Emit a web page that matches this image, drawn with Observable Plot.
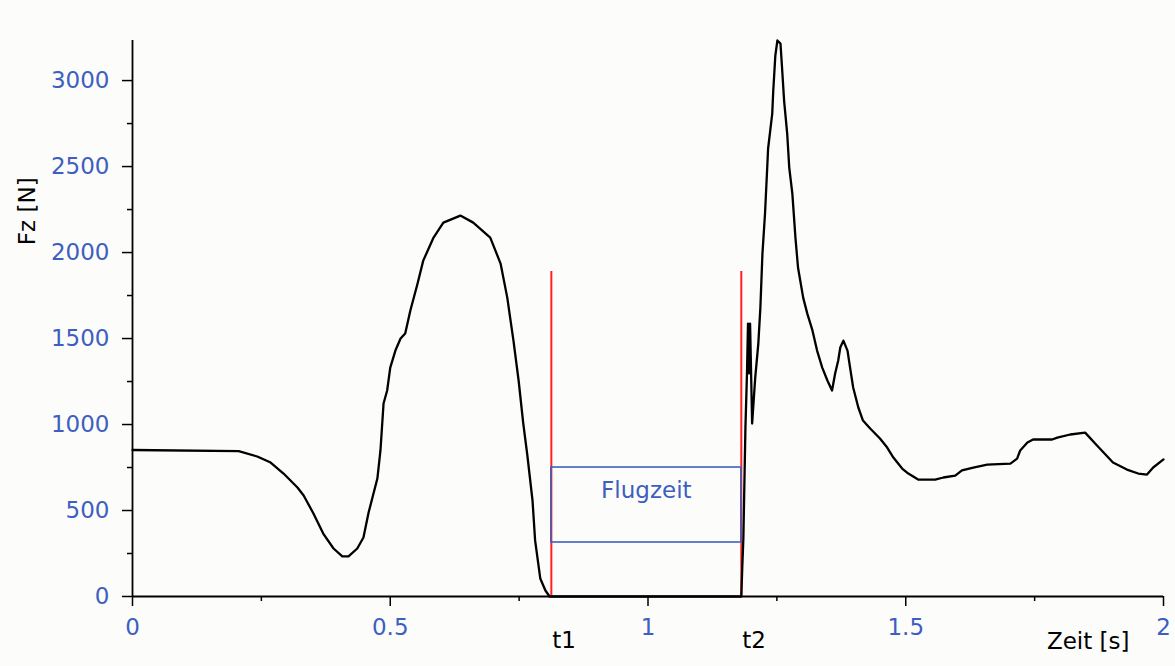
<!DOCTYPE html>
<html>
<head>
<meta charset="utf-8">
<script src="https://cdn.jsdelivr.net/npm/d3@7"></script>
<script src="https://cdn.jsdelivr.net/npm/@observablehq/plot@0.6"></script>
<style>
  html, body { margin: 0; padding: 0; background: #fcfcfa; }
</style>
</head>
<body>
<div id="chart"></div>
<script>
// Time (s) and vertical force Fz (N)
const time = [0, 0.206, 0.242, 0.268, 0.293, 0.320, 0.332, 0.351, 0.370, 0.390, 0.407, 0.419, 0.436, 0.448, 0.458, 0.475, 0.481, 0.487, 0.494, 0.500, 0.510, 0.520, 0.529, 0.539, 0.553, 0.564, 0.584, 0.603, 0.636, 0.661, 0.694, 0.714, 0.727, 0.739, 0.749, 0.758, 0.766, 0.776, 0.781, 0.791, 0.801, 0.809,
  1.181, 1.183, 1.185, 1.189, 1.192, 1.194, 1.196, 1.198, 1.202, 1.208, 1.214, 1.218, 1.222, 1.227, 1.231, 1.233, 1.241, 1.243, 1.247, 1.251, 1.257, 1.260, 1.264, 1.270, 1.274, 1.280, 1.286, 1.291, 1.301, 1.309, 1.319, 1.328, 1.338, 1.348, 1.357, 1.363, 1.369, 1.373, 1.379, 1.387, 1.392, 1.398, 1.408, 1.417, 1.431, 1.450, 1.464, 1.476, 1.493, 1.505, 1.524, 1.557, 1.573, 1.596, 1.609, 1.631, 1.658, 1.703, 1.716, 1.722, 1.736, 1.747, 1.784, 1.794, 1.819, 1.848, 1.871, 1.902, 1.929, 1.951, 1.968, 1.980, 2.000];
const force = [852, 845, 814, 779, 715, 634, 587, 483, 366, 279, 233, 233, 279, 343, 488, 686, 849, 1122, 1198, 1331, 1430, 1500, 1529, 1663, 1820, 1953, 2087, 2174, 2215, 2174, 2087, 1936, 1738, 1488, 1256, 1006, 820, 558, 326, 105, 35, 0,
  0, 180, 337, 983, 1297, 1587, 1297, 1587, 1006, 1273, 1471, 1680, 1994, 2227, 2477, 2605, 2808, 2942, 3145, 3233, 3215, 3076, 2884, 2692, 2494, 2343, 2087, 1913, 1738, 1645, 1547, 1430, 1331, 1256, 1198, 1297, 1372, 1448, 1488, 1430, 1331, 1215, 1099, 1023, 977, 919, 866, 808, 744, 715, 680, 680, 692, 703, 733, 750, 767, 773, 802, 849, 895, 913, 913, 924, 942, 953, 878, 779, 738, 715, 709, 750, 797];

const xMajor = [0, 0.5, 1, 1.5, 2];
const xMinor = [0.25, 0.75, 1.25, 1.75];
const yMajor = [0, 500, 1000, 1500, 2000, 2500, 3000];
const yMinor = [250, 750, 1250, 1750, 2250, 2750];

// Flight phase markers
const events = [{name: "t1", t: 0.8125}, {name: "t2", t: 1.181}];
const markerTop = 1890;
const flight = [{t1: 0.8125, t2: 1.181, lo: 314, hi: 750, label: "Flugzeit", labelF: 616}];

const yLabel = "Fz [N]";
const xLabel = "Zeit [s]";

const data = time.map((t, i) => ({t, f: force[i]}));

const blue = "#3d5fc0";
const red = "#ff2020";

const chart = Plot.plot({
  width: 1175,
  height: 666,
  marginLeft: 132,
  marginRight: 12,
  marginTop: 40,
  marginBottom: 70,
  x: {domain: [0, 2]},
  y: {domain: [0, 3233]},
  style: {fontFamily: "DejaVu Sans", fontSize: "23px", background: "#fcfcfa", color: "black", overflow: "visible"},
  marks: [
    // axis lines
    Plot.ruleX([0], {stroke: "black", strokeWidth: 1.8}),
    Plot.ruleY([0], {stroke: "black", strokeWidth: 1.8}),
    // ticks
    Plot.axisY({ticks: yMajor, tickSize: 10, text: null, stroke: "black", strokeWidth: 1.5}),
    Plot.axisY({ticks: yMinor, tickSize: 5, text: null, stroke: "black", strokeWidth: 1.5}),
    Plot.axisX({ticks: xMajor, tickSize: 10, text: null, stroke: "black", strokeWidth: 1.5}),
    Plot.axisX({ticks: xMinor, tickSize: 5, text: null, stroke: "black", strokeWidth: 1.5}),
    // tick labels
    Plot.axisY({ticks: yMajor, tickSize: 0, tickPadding: 23, tickFormat: d => String(d), fill: blue, fontSize: 23, label: null}),
    Plot.axisX({ticks: xMajor, tickSize: 0, tickPadding: 22, tickFormat: d => String(d), fill: blue, fontSize: 23, label: null}),
    // axis titles
    Plot.text([yLabel], {frameAnchor: "left", y: 2240, dx: -105, rotate: -90, textAnchor: "middle", lineAnchor: "middle", text: d => d, fill: "black", fontSize: 23}),
    Plot.text([xLabel], {x: 1.854, frameAnchor: "bottom", dy: 45, textAnchor: "middle", lineAnchor: "middle", text: d => d, fill: "black", fontSize: 23}),
    // event markers
    Plot.ruleX(events, {x: "t", y1: 0, y2: markerTop, stroke: red, strokeWidth: 2}),
    Plot.text(events, {x: "t", frameAnchor: "bottom", dy: 44, dx: 1, textAnchor: "start", lineAnchor: "middle", text: "name", fill: "black", fontSize: 23}),
    // flight time box
    Plot.rect(flight, {x1: "t1", x2: "t2", y1: "lo", y2: "hi", fill: "none", stroke: blue, strokeWidth: 1.6}),
    Plot.text(flight, {x: d => (d.t1 + d.t2) / 2, y: "labelF", text: "label", fill: blue, fontSize: 23}),
    // force curve
    Plot.line(data, {x: "t", y: "f", stroke: "black", strokeWidth: 2.3})
  ]
});
document.getElementById("chart").appendChild(chart);
</script>
</body>
</html>
